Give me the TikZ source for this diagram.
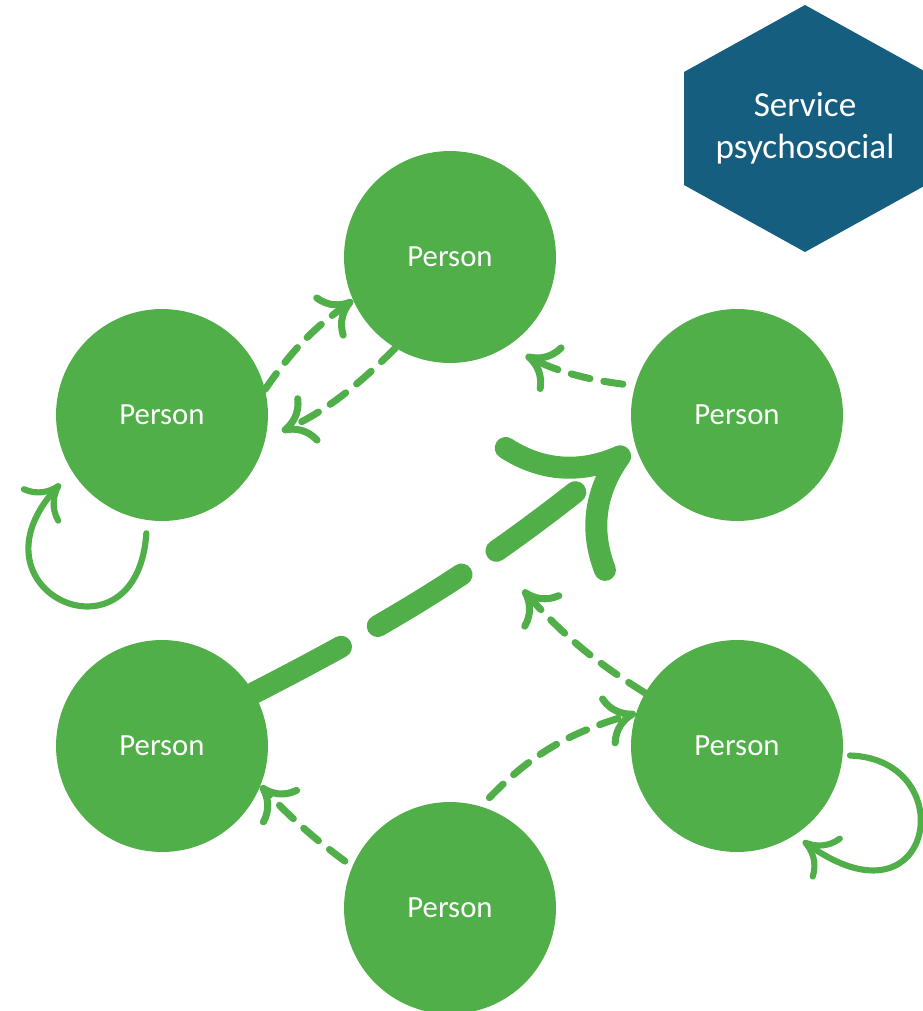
\documentclass[tikz,border=0pt]{standalone}
\usepackage{fontspec}
\setmainfont{Carlito}
\usetikzlibrary{arrows.meta}
\definecolor{pgreen}{HTML}{50AF48}
\definecolor{pblue}{HTML}{165E80}
\begin{document}
\begin{tikzpicture}[x=0.02cm,y=-0.02cm,
	person/.style={circle,fill=pgreen,minimum size=4.24cm,inner sep=0pt,text=white,font=\fontsize{17.5}{21}\selectfont},
	link/.style={pgreen,line width=4pt,line cap=round,dash pattern=on 11pt off 8pt,-{Computer Modern Rightarrow[length=18pt,width=30pt]}},
	biglink/.style={pgreen,line width=12.5pt,line cap=round,dash pattern=on 56pt off 24pt,-{Computer Modern Rightarrow[length=60pt,width=102pt]}},
	selfloop/.style={pgreen,line width=3.5pt,line cap=round,-{Computer Modern Rightarrow[length=18pt,width=30pt]}}]
	\useasboundingbox (0,0) rectangle (923,1011);
	\fill[pblue] (805,5) -- (926,72) -- (926,185) -- (805,252) -- (684,185) -- (684,72) -- cycle;
	\node[text=white,align=center,font=\fontsize{20}{24}\selectfont] (service) at (805,128) {Service\\psychosocial};
	\foreach \n/\x/\y in {top/450/257,lu/162/415,ru/737/415,ll/162/746,rl/737/746,bot/450/908} {
	\node[person] (\n) at (\x,\y) {Person};
	}
	\coordinate (tie) at (523,590);
	\draw[link] (lu.14) to[bend left=10] (top.204);
	\draw[link,shorten >=0.36cm] (top.239) to[bend left=10] (lu.-13);
	\draw[link,shorten <=0.24cm,shorten >=0.4cm] (ru.164) to[bend left=10] (top.-57);
	\draw[biglink,shorten >=0.16cm] (ll.30) to[bend right=6] (ru.196);
	\draw[link] (rl.150) to[bend left=8] (tie);
	\draw[link,shorten <=0.24cm] (bot.73) to[bend left=15] (rl.162);
	\draw[link,shorten <=0.18cm] (bot.157) to[bend left=5] (ll.-22);
	\draw[selfloop,shorten <=0.26cm,shorten >=0.34cm] (lu.262) .. controls +(-10,150) and +(-110,120) .. (lu.212);
	\draw[selfloop,shorten <=0.14cm,shorten >=0.2cm] (rl.-5) .. controls +(120,4) and +(140,100) .. (rl.-57);
	%\node at (852,453) {};
\end{tikzpicture}
\end{document}
